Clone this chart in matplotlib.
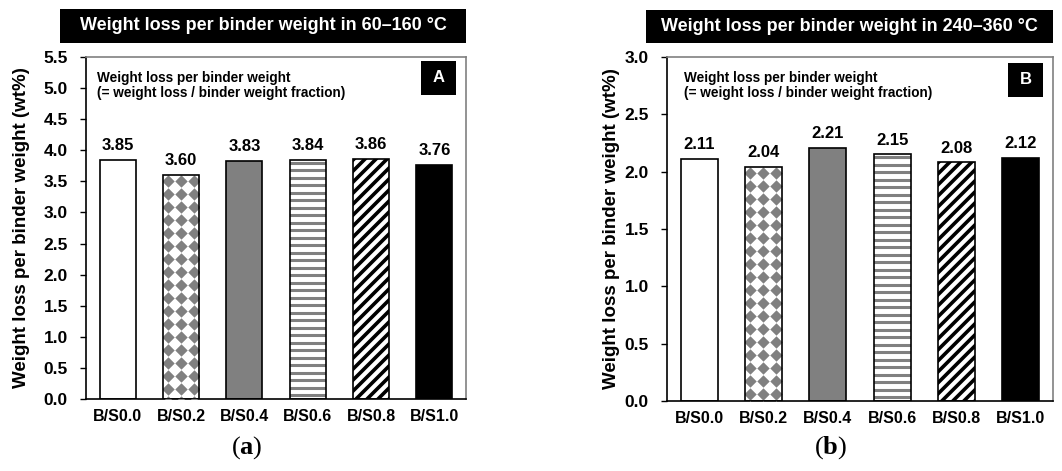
import matplotlib
matplotlib.use('Agg')
import matplotlib.pyplot as plt
import numpy as np
from matplotlib.patches import Rectangle
from matplotlib.collections import LineCollection

plt.rcParams['font.family'] = ['Liberation Sans', 'DejaVu Sans']
plt.rcParams['font.weight'] = 'bold'
plt.rcParams['mathtext.fontset'] = 'custom'
plt.rcParams['mathtext.rm'] = 'Liberation Serif'
plt.rcParams['mathtext.bf'] = 'Liberation Serif:bold'

categories = ['B/S0.0', 'B/S0.2', 'B/S0.4', 'B/S0.6', 'B/S0.8', 'B/S1.0']
values_a = [3.85, 3.60, 3.83, 3.84, 3.86, 3.76]
values_b = [2.11, 2.04, 2.21, 2.15, 2.08, 2.12]
yticks_a = [0.0, 0.5, 1.0, 1.5, 2.0, 2.5, 3.0, 3.5, 4.0, 4.5, 5.0, 5.5]
yticks_b = [0.0, 0.5, 1.0, 1.5, 2.0, 2.5, 3.0]
title_a = 'Weight loss per binder weight in 60\u2013160 \u00b0C'
title_b = 'Weight loss per binder weight in 240\u2013360 \u00b0C'
note = 'Weight loss per binder weight\n(= weight loss / binder weight fraction)'
ylabel = 'Weight loss per binder weight (wt%)'

W, H = 1062, 471
fig = plt.figure(figsize=(W / 100, H / 100), dpi=100)

GREY = '#808080'


def px_box(l, t, r, b):
    """figure-fraction rect from pixel edges"""
    return [l / W, 1 - b / H, (r - l) / W, (b - t) / H]


def to_data(ax, pts):
    return ax.transData.inverted().transform(pts)


def bar_px(ax, bar):
    x0, y0 = ax.transData.transform((bar.get_x(), 0))
    x1, y1 = ax.transData.transform((bar.get_x() + bar.get_width(), bar.get_height()))
    return x0, y0, x1, y1


def diamonds(ax, bar, step=13.0, size=40):
    # rotated checkerboard: grey diamonds on a square grid, corners nearly touching
    x0, y0, x1, y1 = bar_px(ax, bar)
    pts = []
    y = y1 - 6
    while y > y0 - step:
        x = x0 + 5
        while x < x1 + step / 2:
            pts.append((x, y))
            x += step
        y -= step
    d = to_data(ax, np.array(pts))
    sc = ax.scatter(d[:, 0], d[:, 1], marker='D', s=size, color=GREY,
                    linewidths=0, zorder=3)
    sc.set_clip_path(bar)


def hstripes(ax, bar, step=7.5, lw=2.2):
    x0, y0, x1, y1 = bar_px(ax, bar)
    segs = []
    y = y0 + step / 2
    while y < y1:
        segs.append(to_data(ax, np.array([(x0 - 5, y), (x1 + 5, y)])))
        y += step
    lc = LineCollection(segs, colors=GREY, linewidths=lw, zorder=3)
    ax.add_collection(lc)
    lc.set_clip_path(bar)


def dstripes(ax, bar, step=11.0, lw=2.6):
    x0, y0, x1, y1 = bar_px(ax, bar)
    w = x1 - x0
    segs = []
    c = y0 - w - step
    while c < y1 + step:
        segs.append(to_data(ax, np.array([(x0 - 5, c - 5), (x1 + 5, c + w + 5)])))
        c += step
    lc = LineCollection(segs, colors='black', linewidths=lw, zorder=3)
    ax.add_collection(lc)
    lc.set_clip_path(bar)


def draw_panel(rect, values, yticks, title, letter, title_px, letter_px, note_x, ylabel_x, tag, tag_x):
    ax = fig.add_axes(px_box(*rect))
    x = np.arange(len(categories))
    faces = ['white', 'white', GREY, 'white', 'white', 'black']
    bars = ax.bar(x, values, width=0.57, color=faces, edgecolor='none', zorder=2)
    ax.set_xlim(-0.5, len(categories) - 0.5)
    ax.set_ylim(yticks[0], yticks[-1])

    diamonds(ax, bars[1])
    hstripes(ax, bars[3])
    dstripes(ax, bars[4])
    ax.bar(x, values, width=0.57, fill=False, edgecolor='black', linewidth=1.2, zorder=4)

    for xi, v in zip(x, values):
        ax.annotate(f'{v:.2f}', (xi, v), xytext=(0, 5), textcoords='offset points',
                    ha='center', va='bottom', fontsize=12, fontweight='bold')

    ax.set_xticks(x)
    ax.set_xticklabels(categories, fontsize=11.5, fontweight='bold')
    ax.tick_params(axis='x', length=0, pad=7)
    ax.set_yticks(yticks)
    ax.set_yticklabels([f'{t:.1f}' for t in yticks], fontsize=12.5, fontweight='bold')
    ax.tick_params(axis='y', length=4, width=1, pad=9, direction='out')
    for s in ['left', 'bottom']:
        ax.spines[s].set_color('black')
        ax.spines[s].set_linewidth(1.2)
    for s in ['top', 'right']:
        ax.spines[s].set_color(GREY)
        ax.spines[s].set_linewidth(1.2)

    ax.text(note_x, 0.96, note, transform=ax.transAxes, ha='left', va='top',
            fontsize=9.8, fontweight='bold', linespacing=1.1)

    # letter box in top right corner
    lb = px_box(*letter_px)
    fig.patches.append(Rectangle((lb[0], lb[1]), lb[2], lb[3], transform=fig.transFigure,
                                 facecolor='black', edgecolor='none'))
    fig.text(lb[0] + lb[2] / 2, lb[1] + lb[3] / 2, letter, color='white',
             ha='center', va='center', fontsize=12, fontweight='bold')

    # title banner
    tb = px_box(*title_px)
    fig.patches.append(Rectangle((tb[0], tb[1]), tb[2], tb[3], transform=fig.transFigure,
                                 facecolor='black', edgecolor='none'))
    fig.text(tb[0] + tb[2] / 2, tb[1] + tb[3] / 2, title, color='white',
             ha='center', va='center', fontsize=13, fontweight='bold')

    fig.text(ylabel_x / W, 1 - ((rect[1] + rect[3]) / 2) / H, ylabel, rotation=90,
             ha='center', va='center', fontsize=13.5, fontweight='bold')

    fig.text(tag_x / W, 1 - 448 / H, r'($\mathbf{' + tag + r'}$)', ha='center', va='center',
             fontsize=19, family='Liberation Serif', fontweight='normal')
    return ax


draw_panel((86, 57, 466, 399), values_a, yticks_a, title_a, 'A',
           (60, 9, 466, 43), (421, 61, 456, 95), 0.03, 22, 'a', 247)
draw_panel((667, 57, 1053, 401), values_b, yticks_b, title_b, 'B',
           (646, 10, 1053, 43), (1008, 63, 1043, 97), 0.045, 611, 'b', 831)

fig.savefig('out.png', dpi=100)
